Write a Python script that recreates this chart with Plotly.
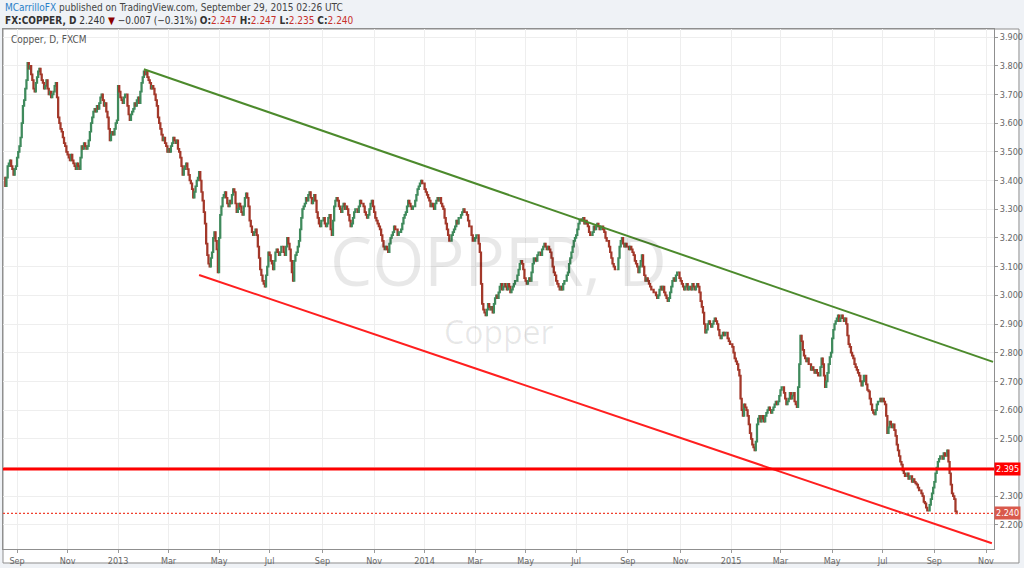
import pandas as pd
import plotly.graph_objects as go

# ---------------- data ----------------
START_DATE = "2012-08-20"          # first daily bar
AXIS_END_DATE = "2015-11-30"       # empty space kept to the right
first_open = 3.41

close = [
    3.38, 3.41, 3.45, 3.46, 3.47, 3.45, 3.44, 3.42, 3.44, 3.45,
    3.48, 3.50, 3.52, 3.55, 3.60, 3.66, 3.68, 3.72, 3.75, 3.81,
    3.79, 3.80, 3.77, 3.75, 3.72, 3.71, 3.74, 3.76, 3.78, 3.79,
    3.77, 3.75, 3.74, 3.72, 3.73, 3.75, 3.72, 3.70, 3.71, 3.69,
    3.70, 3.71, 3.73, 3.74, 3.69, 3.62, 3.60, 3.58, 3.57, 3.55,
    3.53, 3.52, 3.50, 3.49, 3.48, 3.47, 3.49, 3.47, 3.46, 3.45,
    3.44, 3.46, 3.45, 3.44, 3.48, 3.52, 3.51, 3.53, 3.52, 3.51,
    3.52, 3.54, 3.57, 3.60, 3.62, 3.64, 3.65, 3.64, 3.66, 3.65,
    3.67, 3.69, 3.70, 3.68, 3.66, 3.67, 3.64, 3.62, 3.58, 3.54,
    3.56, 3.57, 3.56, 3.58, 3.60, 3.61, 3.73, 3.71, 3.69, 3.68,
    3.67, 3.69, 3.70, 3.70, 3.66, 3.63, 3.61, 3.63, 3.64, 3.65,
    3.67, 3.66, 3.68, 3.69, 3.67, 3.71, 3.74, 3.76, 3.78, 3.77,
    3.78, 3.76, 3.75, 3.74, 3.72, 3.73, 3.72, 3.70, 3.68, 3.66,
    3.62, 3.60, 3.58, 3.56, 3.54, 3.55, 3.53, 3.52, 3.50, 3.51,
    3.50, 3.52, 3.53, 3.55, 3.54, 3.53, 3.54, 3.51, 3.50, 3.48,
    3.45, 3.42, 3.44, 3.45, 3.46, 3.44, 3.42, 3.40, 3.39, 3.37,
    3.34, 3.36, 3.38, 3.40, 3.41, 3.43, 3.40, 3.36, 3.33, 3.29,
    3.25, 3.18, 3.14, 3.11, 3.10, 3.13, 3.15, 3.20, 3.22, 3.19,
    3.16, 3.08, 3.20, 3.28, 3.31, 3.34, 3.35, 3.36, 3.34, 3.32,
    3.31, 3.33, 3.32, 3.35, 3.37, 3.36, 3.32, 3.29, 3.30, 3.32,
    3.31, 3.29, 3.28, 3.31, 3.34, 3.355, 3.34, 3.31, 3.26, 3.24,
    3.22, 3.21, 3.22, 3.23, 3.21, 3.17, 3.13, 3.09, 3.07, 3.05,
    3.04, 3.03, 3.07, 3.10, 3.15, 3.14, 3.12, 3.11, 3.09, 3.12,
    3.15, 3.16, 3.15, 3.14, 3.15, 3.17, 3.17, 3.15, 3.14, 3.17,
    3.20, 3.18, 3.16, 3.12, 3.08, 3.05, 3.12, 3.14, 3.15, 3.17,
    3.19, 3.23, 3.27, 3.30, 3.31, 3.32, 3.34, 3.33, 3.35, 3.36,
    3.34, 3.32, 3.33, 3.35, 3.33, 3.29, 3.27, 3.25, 3.24, 3.26,
    3.26, 3.27, 3.25, 3.24, 3.25, 3.27, 3.28, 3.23, 3.21, 3.26,
    3.31, 3.33, 3.34, 3.33, 3.31, 3.30, 3.29, 3.31, 3.32, 3.30,
    3.31, 3.30, 3.28, 3.26, 3.24, 3.25, 3.27, 3.29, 3.30, 3.30,
    3.29, 3.31, 3.33, 3.32, 3.32, 3.31, 3.29, 3.28, 3.27, 3.28,
    3.30, 3.32, 3.33, 3.31, 3.29, 3.27, 3.26, 3.25, 3.24, 3.23,
    3.21, 3.19, 3.17, 3.16, 3.17, 3.16, 3.15, 3.18, 3.20, 3.21,
    3.22, 3.24, 3.23, 3.23, 3.21, 3.22, 3.22, 3.23, 3.25, 3.27,
    3.28, 3.29, 3.31, 3.33, 3.32, 3.31, 3.30, 3.31, 3.31, 3.33,
    3.35, 3.37, 3.38, 3.39, 3.40, 3.39, 3.39, 3.37, 3.36, 3.35,
    3.34, 3.33, 3.31, 3.32, 3.31, 3.30, 3.32, 3.33, 3.34, 3.33,
    3.34, 3.32, 3.31, 3.30, 3.27, 3.25, 3.23, 3.21, 3.19, 3.19,
    3.21, 3.22, 3.23, 3.24, 3.26, 3.25, 3.27, 3.27, 3.28, 3.29,
    3.30, 3.29, 3.29, 3.28, 3.26, 3.24, 3.24, 3.21, 3.19, 3.19,
    3.20, 3.21, 3.21, 3.18, 3.15, 3.04, 2.97, 2.95, 2.94, 2.93,
    2.95, 2.97, 2.96, 2.95, 2.96, 2.94, 2.97, 2.99, 3.00, 2.99,
    3.01, 3.03, 3.04, 3.02, 3.03, 3.04, 3.03, 3.02, 3.04, 3.03,
    3.01, 3.02, 3.03, 3.04, 3.05, 3.05, 3.07, 3.09, 3.11, 3.12,
    3.11, 3.09, 3.06, 3.05, 3.04, 3.05, 3.06, 3.05, 3.08, 3.11,
    3.13, 3.13, 3.12, 3.14, 3.15, 3.15, 3.14, 3.16, 3.17, 3.18,
    3.17, 3.16, 3.17, 3.16, 3.15, 3.13, 3.10, 3.08, 3.07, 3.05,
    3.04, 3.03, 3.02, 3.03, 3.02, 3.04, 3.05, 3.05, 3.07, 3.08,
    3.11, 3.13, 3.15, 3.17, 3.19, 3.20, 3.21, 3.23, 3.25, 3.26,
    3.265, 3.26, 3.27, 3.25, 3.26, 3.25, 3.24, 3.22, 3.21, 3.21,
    3.22, 3.24, 3.23, 3.24, 3.25, 3.24, 3.23, 3.24, 3.24, 3.23,
    3.22, 3.20, 3.19, 3.19, 3.17, 3.15, 3.13, 3.11, 3.10, 3.09,
    3.09, 3.09, 3.13, 3.17, 3.19, 3.20, 3.18, 3.17, 3.18, 3.17,
    3.17, 3.16, 3.17, 3.16, 3.15, 3.14, 3.12, 3.11, 3.10, 3.08,
    3.10, 3.12, 3.14, 3.10, 3.07, 3.05, 3.06, 3.05, 3.04, 3.03,
    3.02, 3.02, 3.01, 3.01, 3.00, 2.99, 3.00, 3.02, 3.03, 3.02,
    3.03, 3.01, 3.00, 2.99, 2.98, 2.99, 3.01, 3.03, 3.05, 3.06,
    3.05, 3.07, 3.08, 3.08, 3.06, 3.05, 3.04, 3.03, 3.02, 3.03,
    3.04, 3.02, 3.03, 3.03, 3.02, 3.04, 3.03, 3.02, 3.03, 3.04,
    3.03, 3.01, 2.98, 2.96, 2.94, 2.90, 2.87, 2.88, 2.90, 2.91,
    2.90, 2.89, 2.90, 2.91, 2.92, 2.91, 2.90, 2.88, 2.86, 2.85,
    2.86, 2.87, 2.86, 2.87, 2.87, 2.85, 2.84, 2.83, 2.83, 2.82,
    2.80, 2.78, 2.77, 2.76, 2.74, 2.72, 2.64, 2.60, 2.58, 2.62,
    2.61, 2.60, 2.58, 2.55, 2.52, 2.50, 2.48, 2.47, 2.46, 2.49,
    2.55, 2.57, 2.58, 2.56, 2.58, 2.57, 2.56, 2.58, 2.59, 2.60,
    2.61, 2.60, 2.59, 2.60, 2.61, 2.62, 2.63, 2.62, 2.63, 2.65,
    2.67, 2.68, 2.68, 2.66, 2.64, 2.62, 2.63, 2.64, 2.66, 2.64,
    2.65, 2.66, 2.63, 2.62, 2.61, 2.68, 2.76, 2.86, 2.84, 2.81,
    2.79, 2.78, 2.77, 2.78, 2.76, 2.76, 2.74, 2.75, 2.74, 2.73,
    2.74, 2.73, 2.72, 2.72, 2.75, 2.78, 2.76, 2.72, 2.68, 2.70,
    2.73, 2.76, 2.785, 2.80, 2.85, 2.88, 2.90, 2.91, 2.92, 2.93,
    2.91, 2.92, 2.93, 2.92, 2.91, 2.92, 2.90, 2.86, 2.83, 2.82,
    2.80, 2.79, 2.78, 2.76, 2.75, 2.74, 2.73, 2.72, 2.70, 2.685,
    2.70, 2.72, 2.72, 2.69, 2.67, 2.665, 2.64, 2.62, 2.60, 2.59,
    2.585, 2.60, 2.62, 2.63, 2.63, 2.64, 2.63, 2.64, 2.63, 2.62,
    2.58, 2.52, 2.54, 2.56, 2.55, 2.54, 2.55, 2.53, 2.51, 2.48,
    2.46, 2.44, 2.42, 2.41, 2.39, 2.38, 2.37, 2.37, 2.38, 2.36,
    2.37, 2.37, 2.35, 2.36, 2.35, 2.345, 2.34, 2.33, 2.32, 2.32,
    2.31, 2.30, 2.28, 2.275, 2.26, 2.25, 2.25, 2.27, 2.29, 2.31,
    2.33, 2.35, 2.38, 2.40, 2.42, 2.43, 2.44, 2.44, 2.43, 2.45,
    2.44, 2.44, 2.46, 2.42, 2.38, 2.34, 2.31, 2.30, 2.29, 2.247,
    2.240,
]

price_ticks = [2.2, 2.3, 2.4, 2.5, 2.6, 2.7, 2.8, 2.9, 3.0, 3.1, 3.2, 3.3,
               3.4, 3.5, 3.6, 3.7, 3.8, 3.9]
hidden_price_ticks = [2.4]          # covered by the 2.395 tag
month_names = {3: "Mar", 5: "May", 7: "Jul", 9: "Sep", 11: "Nov"}

green_trend = [("2013-01-31", 3.788), ("2015-11-10", 2.768)]
red_trend = [("2013-04-08", 3.071), ("2015-11-09", 2.136)]
resistance_level = 2.395
last_close = 2.240
price_range = [2.116, 3.928]

# ---------------- derived structures ----------------
bar_dates = pd.bdate_range(START_DATE, periods=len(close))
axis_dates = pd.bdate_range(START_DATE, AXIS_END_DATE)
date_pos = {d.strftime("%Y-%m-%d"): i for i, d in enumerate(axis_dates)}
xs = list(range(len(close)))

opens = [first_open] + close[:-1]
highs = [max(o, c) for o, c in zip(opens, close)]
lows = [min(o, c) for o, c in zip(opens, close)]

tickvals, ticktext = [], []
for i in range(1, len(axis_dates)):
    d, p = axis_dates[i], axis_dates[i - 1]
    if d.month != p.month and d.month % 2 == 1:
        tickvals.append(i)
        ticktext.append(str(d.year) if d.month == 1 else month_names[d.month])

ytext = ["" if v in hidden_price_ticks else f"{v:.3f}" for v in price_ticks]

AXFONT = "Liberation Sans Narrow, DejaVu Sans Condensed, Arial Narrow, Liberation Sans, sans-serif"

fig = go.Figure()
fig.add_trace(go.Candlestick(
    x=xs, open=opens, high=highs, low=lows, close=close,
    increasing=dict(line=dict(color="#3f8a5c", width=1.7), fillcolor="#6ba583"),
    decreasing=dict(line=dict(color="#a3382a", width=1.7), fillcolor="#d75442"),
    whiskerwidth=0, showlegend=False, hoverinfo="skip",
))

shapes = []
# outer chart box (plot + axes)
shapes.append(dict(type="rect", xref="paper", yref="paper", x0=0, x1=1.0252,
                   y0=-0.0269, y1=1, fillcolor="white",
                   line=dict(color="#8f8f8f", width=1), layer="below"))
for pts, col in ((green_trend, "#4c8a2c"), (red_trend, "#ff1f1f")):
    (d0, p0), (d1, p1) = pts
    shapes.append(dict(type="line", xref="x", yref="y",
                       x0=date_pos[d0], y0=p0, x1=date_pos[d1], y1=p1,
                       line=dict(color=col, width=2)))
shapes.append(dict(type="line", xref="paper", yref="y", x0=0, x1=1,
                   y0=resistance_level, y1=resistance_level,
                   line=dict(color="#ff0000", width=3)))
shapes.append(dict(type="line", xref="paper", yref="y", x0=0, x1=1,
                   y0=last_close, y1=last_close,
                   line=dict(color="#f0402f", width=1.2, dash="2px,2px")))

annotations = [
    dict(text="COPPER, D", xref="paper", yref="paper", x=0.5, y=0.5567,
         showarrow=False, font=dict(family="Open Sans", size=67,
                                    color="rgba(0,0,0,0.09)")),
    dict(text="Copper", xref="paper", yref="paper", x=0.5, y=0.4185,
         showarrow=False, font=dict(family="Open Sans", size=32,
                                    color="rgba(0,0,0,0.09)")),
    dict(text="<span style='color:#2a80c8'>MCarrilloFX</span> published on TradingView.com, September 29, 2015 02:26 UTC",
         xref="paper", yref="paper", x=0, y=1.041, xanchor="left", yanchor="middle",
         showarrow=False, font=dict(family=AXFONT, size=10, color="#444444")),
    dict(text="<b>FX:COPPER, D</b> 2.240 <span style='color:#8b0000'>▼</span> −0.007 (−0.31%) "
              "<b>O:</b><span style='color:#c8302a'>2.247</span> <b>H:</b><span style='color:#c8302a'>2.247</span> "
              "<b>L:</b><span style='color:#c8302a'>2.235</span> <b>C:</b><span style='color:#c8302a'>2.240</span>",
         xref="paper", yref="paper", x=0, y=1.016, xanchor="left", yanchor="middle",
         showarrow=False, font=dict(family=AXFONT, size=10, color="#333333")),
    dict(text="Copper, D, FXCM", xref="paper", yref="paper", x=0.006, y=0.979,
         xanchor="left", yanchor="middle", showarrow=False,
         font=dict(family=AXFONT, size=10, color="#555555")),
    dict(text=f"{resistance_level:.3f}", xref="paper", yref="y", x=1, y=resistance_level,
         xanchor="left", yanchor="middle", showarrow=False, bgcolor="#ff0000",
         borderpad=1, font=dict(family=AXFONT, size=9, color="white")),
    dict(text=f"{last_close:.3f}", xref="paper", yref="y", x=1, y=last_close,
         xanchor="left", yanchor="middle", showarrow=False, bgcolor="#d9594c",
         borderpad=1, font=dict(family=AXFONT, size=9, color="white")),
]

fig.update_layout(
    width=1024, height=568,
    margin=dict(l=3, r=30, t=29, b=19, autoexpand=False),
    paper_bgcolor="#eff2f6", plot_bgcolor="white",
    shapes=shapes, annotations=annotations, showlegend=False,
    xaxis=dict(range=[-1.96, 841.8], tickvals=tickvals, ticktext=ticktext,
               showgrid=True, gridcolor="#eeeeee", zeroline=False,
               ticks="outside", ticklen=3, tickcolor="#9a9a9a",
               showline=True, linecolor="#8f8f8f", mirror=True,
               tickfont=dict(family=AXFONT, size=9, color="#666666"),
               rangeslider=dict(visible=False), fixedrange=True),
    yaxis=dict(range=price_range, side="right", tickvals=price_ticks, ticktext=ytext,
               showgrid=True, gridcolor="#eeeeee", zeroline=False,
               ticks="outside", ticklen=3, tickcolor="#9a9a9a",
               showline=True, linecolor="#8f8f8f", mirror=True,
               tickfont=dict(family=AXFONT, size=9, color="#666666"), fixedrange=True),
)

fig.write_html("out.html")
